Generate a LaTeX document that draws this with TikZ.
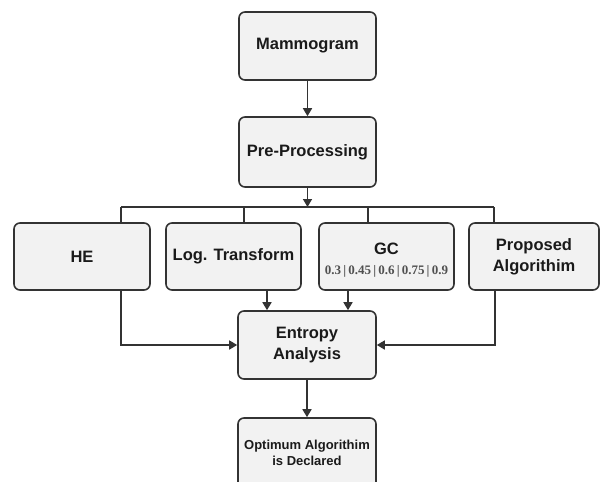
\documentclass[tikz,border=0pt]{standalone}
\usepackage{fontspec}
\setmainfont{Liberation Sans}
\newfontfamily\numfont{Liberation Serif}
\usetikzlibrary{arrows.meta}
\definecolor{boxfill}{HTML}{F2F2F2}
\definecolor{boxline}{HTML}{333333}
\definecolor{txt}{HTML}{1A1A1A}
\definecolor{numtxt}{HTML}{505050}
\tikzset{
  box/.style={draw=boxline, fill=boxfill, line width=1.6pt, rounded corners=6pt,
    inner sep=0pt, align=center, text=txt,
    font=\bfseries\fontsize{16.5}{21}\selectfont},
  conn/.style={draw=boxline, line width=1.6pt},
  arr/.style={conn, -{Triangle[length=8pt,width=9pt]}},
}
\begin{document}
\begin{tikzpicture}[x=1pt,y=-1pt]
\useasboundingbox (0,0) rectangle (600,482);
\begin{scope}
\clip (0,0) rectangle (600,482);
\node[box, minimum width=137pt, minimum height=68pt] (mam) at (307.5,46) {Mammogram};
\node[box, minimum width=137pt, minimum height=70pt] (pre) at (307.5,152) {Pre-Processing};
\node[box, minimum width=136pt, minimum height=67pt] (he) at (82,256.5) {HE};
\node[box, minimum width=135pt, minimum height=67pt] (log) at (233.5,256.5) {Log. Transform};
\node[box, minimum width=135pt, minimum height=67pt] (gc) at (386.5,256.5) {};
\node[box, minimum width=130pt, minimum height=67pt] (prop) at (534,256.5) {Proposed\\Algorithim};
\node[box, minimum width=138pt, minimum height=68pt] (ent) at (307,345) {Entropy\\Analysis};
\node[box, minimum width=138pt, minimum height=70pt, font=\bfseries\fontsize{13}{16}\selectfont] (opt) at (307,453) {Optimum Algorithim\\is Declared};
\node[text=txt, font=\bfseries\fontsize{16.5}{19}\selectfont, inner sep=0pt] (gct) at (386.5,249) {GC};
\node[text=numtxt, font=\numfont\bfseries\fontsize{13}{14}\selectfont, inner sep=0pt] (gcn) at (386.5,271) {0.3\,|\,0.45\,|\,0.6\,|\,0.75\,|\,0.9};
\end{scope}
% connectors
\coordinate (bL) at (121,207);
\coordinate (b2) at (244,207);
\coordinate (b3) at (368,207);
\coordinate (bR) at (494,207);
\draw[arr] (mam.south) -- (pre.north);
\draw[conn] (bL) -- (bR);
\draw[arr] (pre.south) -- (pre.south |- bL);
\draw[conn] (bL) -- (bL |- he.north);
\draw[conn] (b2) -- (b2 |- log.north);
\draw[conn] (b3) -- (b3 |- gc.north);
\draw[conn] (bR) -- (bR |- prop.north);
\coordinate (heout) at (121,290);
\coordinate (logout) at (267,290);
\coordinate (gcout) at (348,290);
\coordinate (propout) at (495,290);
\draw[arr] (heout) |- (ent.west);
\draw[arr] (propout) |- (ent.east);
\draw[arr] (logout) -- (logout |- ent.north);
\draw[arr] (gcout) -- (gcout |- ent.north);
\draw[arr] (ent.south) -- (opt.north);
\end{tikzpicture}
\end{document}
